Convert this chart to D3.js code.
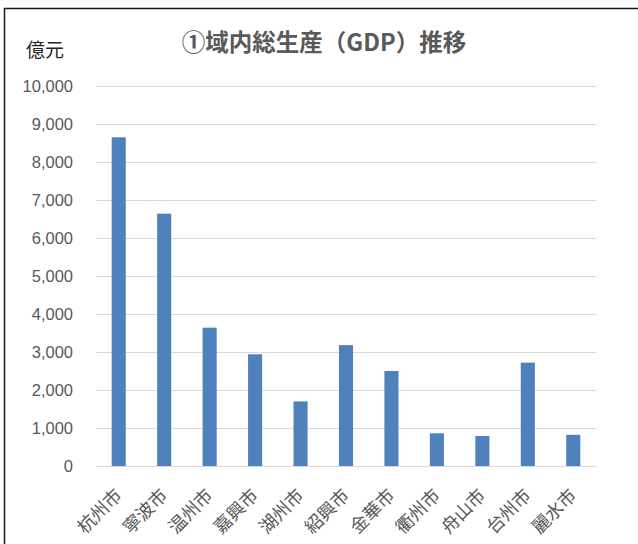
<!DOCTYPE html>
<html>
<head>
<meta charset="utf-8">
<script src="https://cdn.jsdelivr.net/npm/d3@7"></script>
<style>
  html, body { margin: 0; padding: 0; background: #fff; }
  svg { display: block; }
</style>
</head>
<body>
<svg id="chart" width="638" height="544"></svg>
<script>
const cities = ["杭州市", "寧波市", "温州市", "嘉興市", "湖州市", "紹興市", "金華市", "衢州市", "舟山市", "台州市", "麗水市"];
const gdp = [8650, 6640, 3640, 2940, 1700, 3180, 2500, 860, 790, 2720, 820];
const yTicks = [0, 1000, 2000, 3000, 4000, 5000, 6000, 7000, 8000, 9000, 10000];
const titleText = "①域内総生産（GDP）推移";
const unitText = "億元";

const svg = d3.select("#chart");
const W = 638, H = 544;
const plot = { left: 96, right: 596, top: 86, bottom: 466 };
const cjk = "'Noto Sans CJK JP', 'Noto Sans', sans-serif";
const num = "'Liberation Sans', 'DejaVu Sans', sans-serif";

svg.append("rect").attr("width", W).attr("height", H).attr("fill", "#fff");
svg.append("rect").attr("x", 4.5).attr("y", 8.5).attr("width", 700).attr("height", 700)
  .attr("fill", "none").attr("stroke", "#1a1a1a").attr("stroke-width", 1.5);

const x = d3.scaleBand().domain(cities).range([plot.left, plot.right])
  .paddingInner(0.69).paddingOuter(0.345);
const y = d3.scaleLinear().domain([0, 10000]).range([plot.bottom, plot.top]);

// gridlines
const yAxis = d3.axisLeft(y).tickValues(yTicks).tickSize(-(plot.right - plot.left))
  .tickFormat(d3.format(","));
const gy = svg.append("g").attr("transform", `translate(${plot.left},0)`).call(yAxis);
gy.select(".domain").remove();
gy.selectAll(".tick line").attr("stroke", "#d9d9d9").attr("stroke-width", 1);
gy.selectAll(".tick text").attr("x", -23).attr("fill", "#595959")
  .style("font-family", num).style("font-size", "16.5px");

// bars
svg.append("g").selectAll("rect").data(cities).join("rect")
  .attr("x", d => x(d))
  .attr("width", x.bandwidth())
  .attr("y", (d, i) => y(gdp[i]))
  .attr("height", (d, i) => y(0) - y(gdp[i]))
  .attr("fill", "#4f81bd");

// x axis labels
const xAxis = d3.axisBottom(x).tickSize(0);
const gx = svg.append("g").attr("transform", `translate(0,${plot.bottom})`).call(xAxis);
gx.select(".domain").remove();
gx.selectAll(".tick text")
  .attr("fill", "#595959")
  .style("font-family", cjk).style("font-size", "18px")
  .attr("text-anchor", "end")
  .attr("dy", "0.35em")
  .attr("transform", "translate(0,26) rotate(-45)")
  .attr("y", 0).attr("x", 0);

// title
svg.append("text").attr("x", 324).attr("y", 51).attr("text-anchor", "middle")
  .attr("fill", "#595959").style("font-family", cjk).style("font-size", "23.5px")
  .style("font-weight", "bold").text(titleText);

// unit
svg.append("text").attr("x", 26).attr("y", 57)
  .attr("fill", "#262626").style("font-family", cjk).style("font-size", "19px")
  .text(unitText);
</script>
</body>
</html>
